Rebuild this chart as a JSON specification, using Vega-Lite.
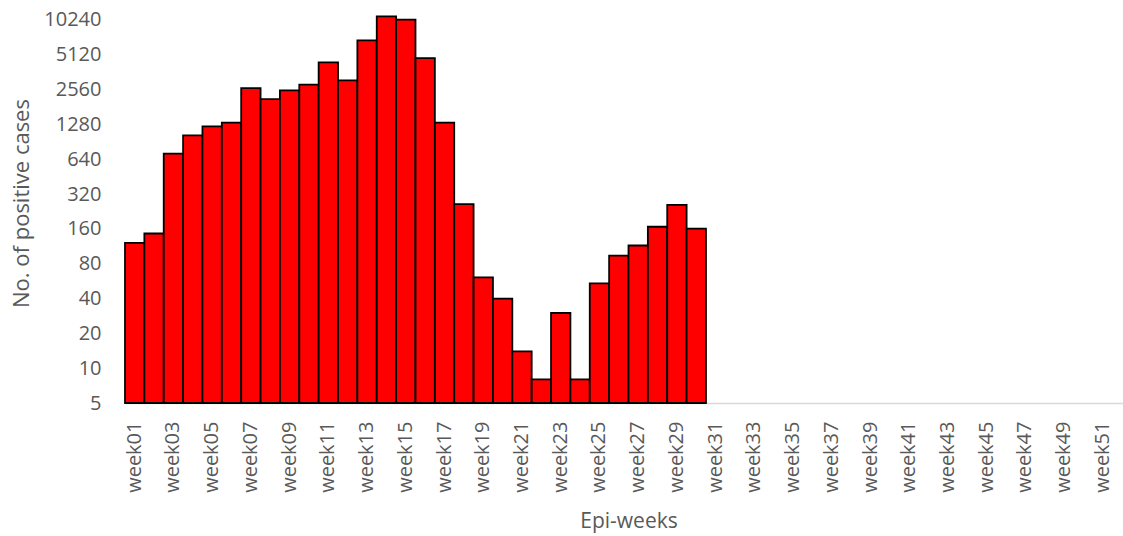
{
  "$schema": "https://vega.github.io/schema/vega-lite/v6.json",
  "width": 998,
  "height": 391,
  "autosize": "none",
  "padding": {"left": 125, "top": 12, "right": 0, "bottom": 133},
  "background": "white",
  "config": {"view": {"stroke": null}, "font": "Open Sans"},
  "data": {"values": [
    {"week": "week01", "cases": 121}, {"week": "week02", "cases": 146}, {"week": "week03", "cases": 717},
    {"week": "week04", "cases": 1031}, {"week": "week05", "cases": 1233}, {"week": "week06", "cases": 1327},
    {"week": "week07", "cases": 2641}, {"week": "week08", "cases": 2122}, {"week": "week09", "cases": 2523},
    {"week": "week10", "cases": 2825}, {"week": "week11", "cases": 4403}, {"week": "week12", "cases": 3078},
    {"week": "week13", "cases": 6817}, {"week": "week14", "cases": 10990}, {"week": "week15", "cases": 10290},
    {"week": "week16", "cases": 4797}, {"week": "week17", "cases": 1327}, {"week": "week18", "cases": 262},
    {"week": "week19", "cases": 61}, {"week": "week20", "cases": 40}, {"week": "week21", "cases": 14},
    {"week": "week22", "cases": 8}, {"week": "week23", "cases": 30}, {"week": "week24", "cases": 8},
    {"week": "week25", "cases": 54}, {"week": "week26", "cases": 94}, {"week": "week27", "cases": 115},
    {"week": "week28", "cases": 167}, {"week": "week29", "cases": 258}, {"week": "week30", "cases": 161}
  ]},
  "mark": {"type": "bar", "fill": "#ff0000", "stroke": "#000000", "strokeWidth": 1.8},
  "encoding": {
    "x": {
      "field": "week", "type": "nominal",
      "scale": {
        "domain": ["week01","week02","week03","week04","week05","week06","week07","week08","week09","week10","week11","week12","week13","week14","week15","week16","week17","week18","week19","week20","week21","week22","week23","week24","week25","week26","week27","week28","week29","week30","week31","week32","week33","week34","week35","week36","week37","week38","week39","week40","week41","week42","week43","week44","week45","week46","week47","week48","week49","week50","week51","week52"],
        "range": [0, 1007],
        "paddingInner": 0, "paddingOuter": 0
      },
      "axis": {
        "title": "Epi-weeks",
        "labelExpr": "parseInt(substring(datum.label, 4)) % 2 == 1 ? datum.label : ''",
        "labelAngle": -90, "labelFontSize": 20, "labelColor": "#595959", "labelPadding": 18,
        "labelOverlap": false, "labelBound": false, "labelFlush": false,
        "ticks": false, "tickSize": 0,
        "domainColor": "#d9d9d9", "domainWidth": 1.5,
        "titleFontSize": 21, "titleColor": "#595959", "titleFontWeight": "normal",
        "titleY": 118, "titleBaseline": "middle"
      }
    },
    "y": {
      "field": "cases", "type": "quantitative",
      "scale": {"type": "log", "base": 2, "domain": [5, 12000], "nice": false},
      "axis": {
        "title": "No. of positive cases",
        "values": [5, 10, 20, 40, 80, 160, 320, 640, 1280, 2560, 5120, 10240],
        "format": "d",
        "grid": false, "domain": false, "ticks": false, "tickSize": 0,
        "labelFontSize": 20, "labelColor": "#595959", "labelPadding": 24,
        "titleFontSize": 22, "titleColor": "#595959", "titleFontWeight": "normal",
        "titleX": -104, "titleY": 191, "titleBaseline": "middle", "titleAlign": "center", "titleAngle": -90
      }
    },
    "y2": {"datum": 5}
  }
}
